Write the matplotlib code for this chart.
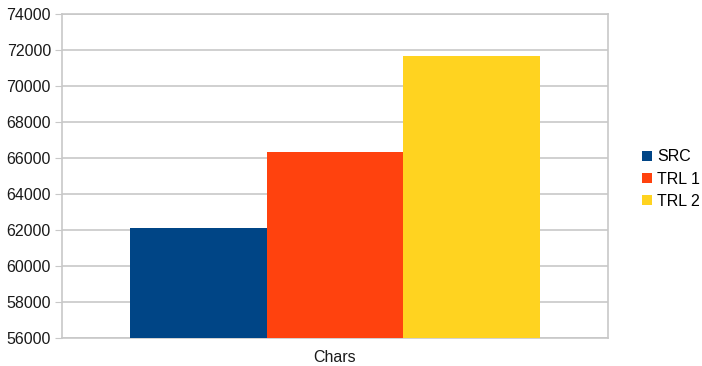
import matplotlib
matplotlib.use("Agg")
import matplotlib.pyplot as plt
from matplotlib.patches import Patch

series = ["SRC", "TRL 1", "TRL 2"]
values = [62130, 66330, 71690]
category = "Chars"
colors = ["#004586", "#ff420e", "#ffd320"]
yticks = list(range(56000, 74001, 2000))

plt.rcParams["font.family"] = ["Liberation Sans", "DejaVu Sans"]

W, H = 702, 366
fig = plt.figure(figsize=(W / 100, H / 100), dpi=100)
left, right, top, bottom = 62, 608, 14, 338
ax = fig.add_axes([left / W, 1 - bottom / H, (right - left) / W, (bottom - top) / H])

n = len(series)
group = 0.75
bw = group / n
for i, (s, v, c) in enumerate(zip(series, values, colors)):
    x = -group / 2 + bw * (i + 0.5)
    ax.bar(x, v - yticks[0], bottom=yticks[0], width=bw, color=c, zorder=3)

ax.set_xlim(-0.5, 0.5)
ax.set_ylim(yticks[0], yticks[-1])
ax.set_yticks(yticks)
ax.set_yticklabels([str(t) for t in yticks])
ax.set_xticks([0])
ax.set_xticklabels([category])
grid_c = "#c8c8c8"
ax.yaxis.grid(True, color=grid_c, linewidth=1.2, zorder=0)
for sp in ax.spines.values():
    sp.set_color(grid_c)
    sp.set_linewidth(1.2)
ax.tick_params(axis="y", length=5, color=grid_c, labelsize=11.5, pad=3, labelcolor="#1a1a1a")
ax.tick_params(axis="x", length=0, labelsize=11.5, pad=9, labelcolor="#1a1a1a")

handles = [Patch(facecolor=c, edgecolor="none") for c in colors]
fig.legend(handles, series, loc="center left", bbox_to_anchor=(642 / W, 1 - 179 / H),
           frameon=False, fontsize=11.5, handlelength=0.6, handleheight=0.6,
           handletextpad=0.35, labelspacing=0.45, borderaxespad=0, borderpad=0)

fig.savefig("out.png", dpi=100)
